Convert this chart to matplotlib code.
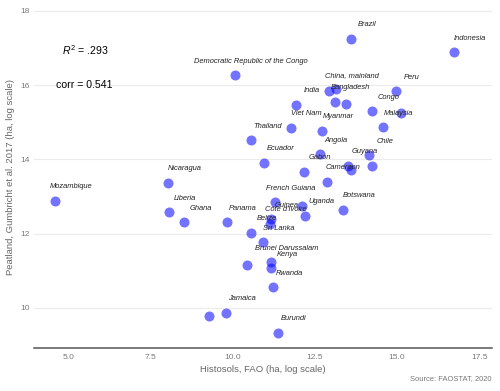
import matplotlib
matplotlib.use("Agg")
import matplotlib.pyplot as plt

plt.rcParams['font.family'] = ['Liberation Sans', 'DejaVu Sans']
plt.rcParams['mathtext.fontset'] = 'custom'
plt.rcParams['mathtext.rm'] = 'Liberation Sans'
plt.rcParams['mathtext.it'] = 'Liberation Sans:italic'

# log(ha) values; empty label = label hidden by overlap
countries = ["Mozambique", "Nicaragua", "Liberia", "Ghana", "Panama",
             "Democratic Republic of the Congo", "Thailand", "Ecuador", "Viet Nam",
             "India", "Gabon", "Myanmar", "", "China, mainland", "Bangladesh", "",
             "Angola", "Cameroon", "Guyana", "", "Chile", "", "Congo", "Malaysia",
             "Peru", "", "Brazil", "Indonesia", "French Guiana", "Guinea",
             "Côte d'Ivoire", "", "Uganda", "Botswana", "Belize", "Sri Lanka",
             "Brunei Darussalam", "Kenya", "", "Rwanda", "Jamaica", "", "Burundi"]
histosols = [4.60, 8.04, 8.06, 8.53, 9.82,
             10.06, 10.57, 10.96, 11.76,
             11.93, 12.17, 12.73, 12.94, 13.14, 13.10, 13.44,
             12.64, 12.87, 13.52, 13.59, 14.15, 14.23, 14.25, 14.56,
             14.96, 15.11, 13.60, 16.74, 11.29, 11.15,
             11.13, 12.11, 12.21, 13.35, 10.56, 10.91,
             11.17, 11.17, 10.43, 11.23, 9.80, 9.27, 11.37]
peatland = [12.89, 13.37, 12.58, 12.31, 12.30,
            16.27, 14.52, 13.91, 14.85,
            15.47, 13.67, 14.77, 15.83, 15.89, 15.55, 15.49,
            14.14, 13.40, 13.83, 13.71, 14.11, 13.83, 15.29, 14.87,
            15.84, 15.26, 17.25, 16.89, 12.84, 12.38,
            12.27, 12.75, 12.48, 12.64, 12.02, 11.76,
            11.23, 11.07, 11.15, 10.55, 9.87, 9.78, 9.33]
r2_text = ".293"
corr_text = "0.541"

fig = plt.figure(figsize=(5, 3.91), dpi=100)
ax = fig.add_axes([0.068, 0.1092, 0.9154, 0.877])

ax.scatter(histosols, peatland, s=52, color="blue", alpha=0.55, linewidths=0, zorder=3)

for name, x, y in zip(countries, histosols, peatland):
    if name:
        ax.annotate(name, (x, y), xytext=(11.5, 10), textcoords="offset points",
                    ha="center", va="center", fontsize=5.4, style="italic",
                    color="#222222", zorder=4)

ax.text(5.51, 16.95, r"$R^2$ = " + r2_text, ha="center", va="center", fontsize=7.6, color="black")
ax.text(5.49, 16.0, "corr = " + corr_text, ha="center", va="center", fontsize=7.6, color="black")

ax.set_xlim(3.957, 17.877)
ax.set_ylim(8.906, 18.15)
ax.set_xticks([5.0, 7.5, 10.0, 12.5, 15.0, 17.5])
ax.set_xticklabels(["5.0", "7.5", "10.0", "12.5", "15.0", "17.5"])
ax.set_yticks([10, 12, 14, 16, 18])

ax.grid(axis="y", color="#ebebeb", linewidth=0.8)
ax.grid(axis="x", visible=False)
ax.set_axisbelow(True)
for side in ["top", "right", "left"]:
    ax.spines[side].set_visible(False)
ax.spines["bottom"].set_color("#555555")
ax.spines["bottom"].set_linewidth(1.1)
ax.tick_params(axis="both", length=0, labelsize=6, labelcolor="#7a7a7a")
ax.tick_params(axis="x", pad=4)
ax.tick_params(axis="y", pad=3)

ax.set_xlabel("Histosols, FAO (ha, log scale)", fontsize=6.8, color="#666666", labelpad=3)
ax.set_ylabel("Peatland, Gumbricht et al. 2017 (ha, log scale)", fontsize=6.8, color="#666666", labelpad=4)

fig.text(0.983, 0.031, "Source: FAOSTAT, 2020", ha="right", va="center", fontsize=5.4, color="#777777")

fig.savefig("out.png", dpi=100)
